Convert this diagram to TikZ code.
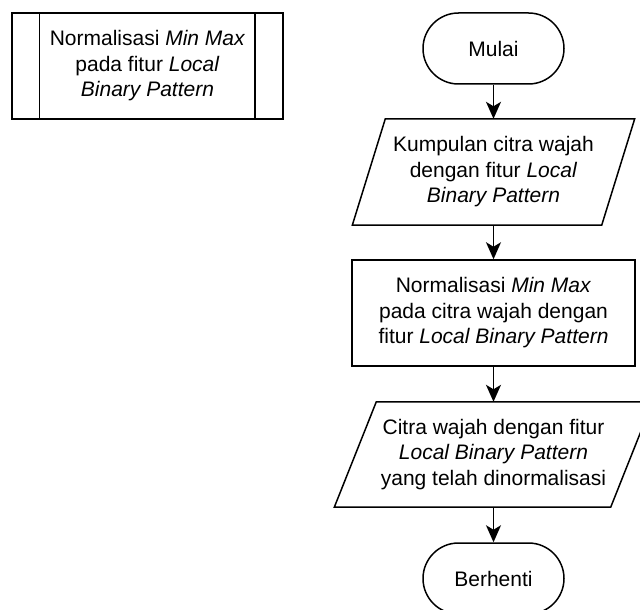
\documentclass[tikz,border=0pt]{standalone}
\usepackage{fontspec}
\setmainfont{Liberation Sans}
\usetikzlibrary{arrows.meta}

\tikzset{
  base/.style={line width=1.5pt, draw=black},
  txt/.style={align=center, inner sep=0pt, font=\fontsize{21}{25.5}\selectfont},
  terminal/.style={base, txt, rounded corners=35.5pt, minimum width=141pt, minimum height=71pt},
  process/.style={base, txt, minimum width=283pt, minimum height=106pt},
  subproc/.style={base, txt, minimum width=271pt, minimum height=106pt},
  iobox/.style={txt, draw=none},
  flow/.style={line width=1.5pt, -{Stealth[length=17pt, width=15pt, inset=4.5pt]}},
}

\begin{document}
\begin{tikzpicture}[x=1pt, y=-1pt]
  \useasboundingbox (0,0) rectangle (640,610);
  \clip (0,0) rectangle (640,610);
  \fill[white] (0,0) rectangle (640,610);

  % predefined process (subroutine) legend box
  \node[subproc] (sub) at (147.5,66) {};
  \draw[base] ([xshift=28pt]sub.north west) -- ([xshift=28pt]sub.south west);
  \draw[base] ([xshift=-29pt]sub.north east) -- ([xshift=-29pt]sub.south east);
  \node[txt] at (sub.center) {Normalisasi \textit{Min Max}\\pada fitur \textit{Local}\\\textit{Binary Pattern}};

  % main flow
  \node[terminal] (start) at (493.5,48.5) {Mulai};

  \node[iobox, minimum width=249pt, minimum height=106pt] (in) at (493.5,172)
    {Kumpulan citra wajah\\dengan fitur \textit{Local}\\\textit{Binary Pattern}};
  \draw[base] ([xshift=16.5pt]in.north west) -- ([xshift=16.5pt]in.north east)
    -- ([xshift=-16.5pt]in.south east) -- ([xshift=-16.5pt]in.south west) -- cycle;

  \node[process] (norm) at (493.5,313)
    {Normalisasi \textit{Min Max}\\pada citra wajah dengan\\fitur \textit{Local Binary Pattern}};

  \node[iobox, minimum width=276pt, minimum height=105pt] (out) at (493.5,454.5)
    {Citra wajah dengan fitur\\\textit{Local Binary Pattern}\\yang telah dinormalisasi};
  \draw[base] ([xshift=21pt]out.north west) -- ([xshift=21pt]out.north east)
    -- ([xshift=-21pt]out.south east) -- ([xshift=-21pt]out.south west) -- cycle;

  \node[terminal] (stop) at (493.5,578.5) {Berhenti};

  \draw[flow] (start) -- (in);
  \draw[flow] (in) -- (norm);
  \draw[flow] (norm) -- (out);
  \draw[flow] (out) -- (stop);
\end{tikzpicture}
\end{document}
